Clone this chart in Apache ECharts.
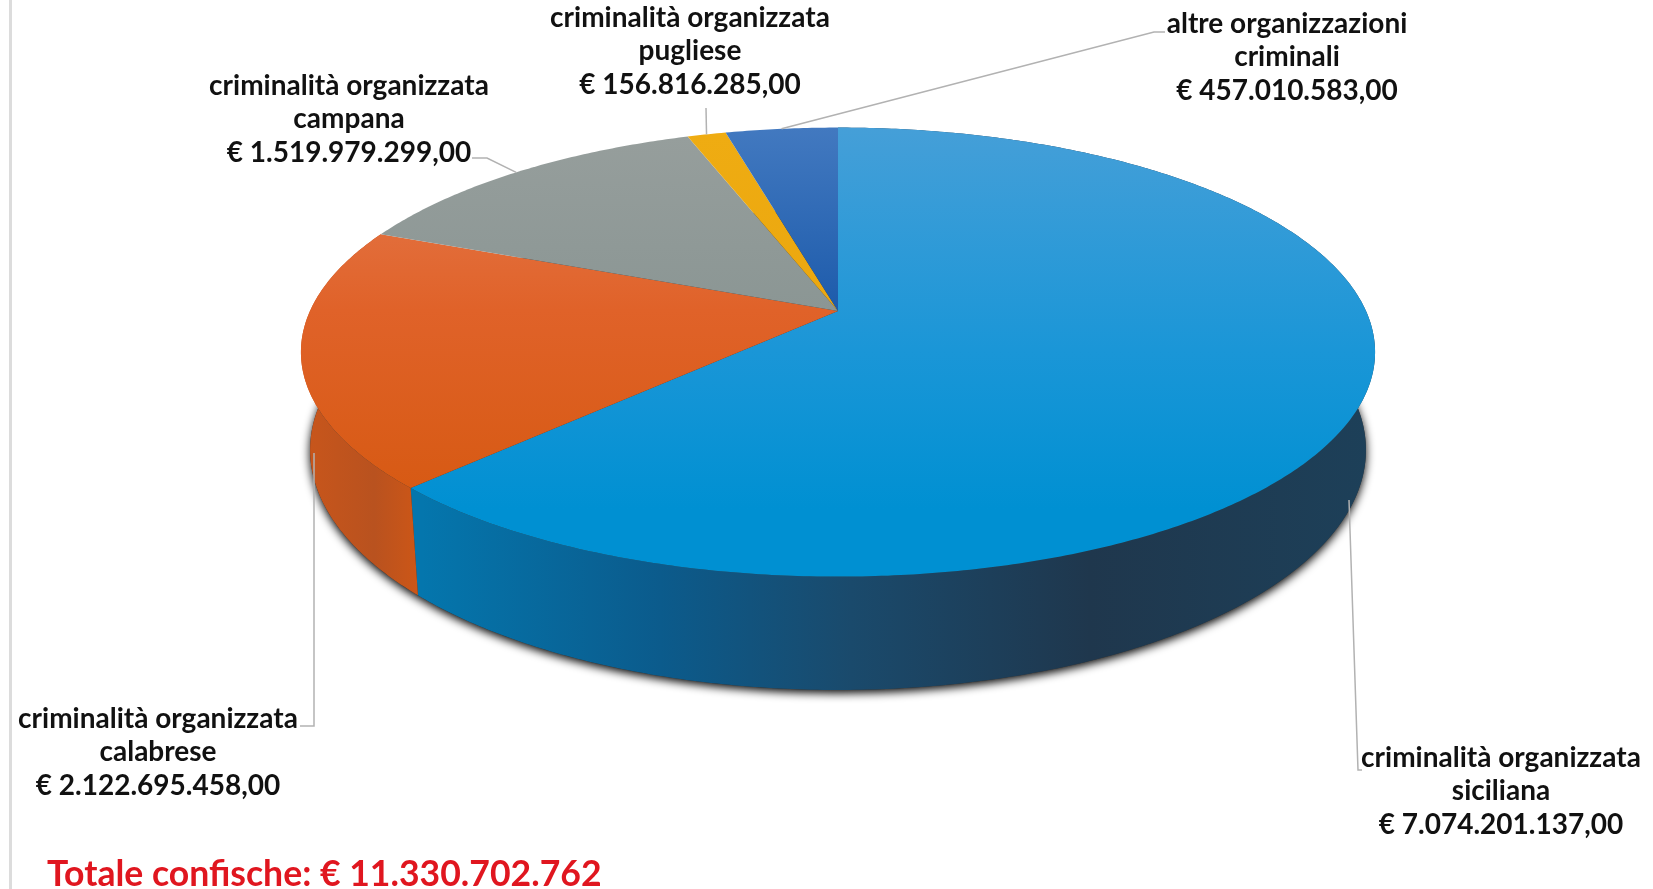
<!DOCTYPE html>
<html>
<head>
<meta charset="utf-8">
<style>
html,body{margin:0;padding:0;background:#fff}
#Charts{width:1653px;height:889px;filter:blur(0.6px)}
</style>
<script src="https://cdn.jsdelivr.net/npm/echarts@6/dist/echarts.min.js"></script>
</head>
<body>
<div id="Charts"></div>
<script>
// confische per organizzazione criminale
var categories = ['siciliana', 'calabrese', 'campana', 'pugliese', 'altre']
var labelNames = ['criminalità organizzata\nsiciliana', 'criminalità organizzata\ncalabrese', 'criminalità organizzata\ncampana', 'criminalità organizzata\npugliese', 'altre organizzazioni\ncriminali']
var values = [7074201137, 2122695458, 1519979299, 156816285, 457010583]
var totalLabel = 'Totale confische: € 11.330.702.762'

// disegno
var FONT = 'Lato'
var topColors = [
	[[0, '#459fd8'], [0.5, '#1a96d7'], [0.85, '#0090d2'], [1, '#0090d2']],
	[[0, '#e26d3a'], [0.3, '#e06229'], [1, '#d75a14']],
	[[0, '#969e9c'], [1, '#8b9694']],
	[[0, '#efac12'], [1, '#eba70f']],
	[[0, '#4279c0'], [1, '#1d5bab']]
]
var wallColors = [
	{x: 422, x2: 1376, stops: [[0, '#0476ad'], [0.25, '#0b5b8c'], [0.45, '#1a4a6c'], [0.7, '#1f374d'], [1, '#1d4059']]},
	{x: 300, x2: 424, stops: [[0, '#c9561b'], [0.6, '#b9521f'], [1, '#cf5716']]}
]
var labelLayout = [
	{x: 1501, y: 791, line: [[1349, 500], [1358, 770], [1362, 770]]},
	{x: 158, y: 752, line: [[314, 453], [314, 726], [300, 726]]},
	{x: 349, y: 119, mid: true, line: [[487, 158], [472, 158]]},
	{x: 690, y: 51, mid: true, line: [[706, 108]]},
	{x: 1287, y: 57, mid: true, line: [[1154, 32], [1165, 32]]}
]

// prospettiva del disco superiore e inferiore
var upper = {cx: 838, cy: 311, a: 528, b: 217, k: -0.183}
var lower = {cx: 838, cy: 406, a: 519, b: 232, k: -0.183}

function project(p, t) {
	var X = Math.sin(t), Y = -Math.cos(t)
	var d = 1 + p.k * Y
	return [p.cx + p.a * X / d, p.cy + p.b * Y / d]
}

function rim(p, t0, t1) {
	var pts = []
	var n = Math.max(2, Math.ceil((t1 - t0) / 0.01))
	for (var i = 0; i <= n; i++) {
		pts.push(project(p, t0 + (t1 - t0) * i / n))
	}
	return pts
}

var total = values.reduce(function (a, b) { return a + b }, 0)
var angles = []
var sum = 0
for (var i = 0; i < values.length; i++) {
	var start = sum / total * Math.PI * 2
	sum += values[i]
	angles.push([start, sum / total * Math.PI * 2])
}

function euro(v) {
	return '€ ' + String(v).replace(/\B(?=(\d{3})+$)/g, '.') + ',00'
}

function stops(list) {
	return list.map(function (s) { return {offset: s[0], color: s[1]} })
}

function renderShadow() {
	return {
		type: 'polygon',
		shape: {points: rim(lower, 0, Math.PI * 2)},
		style: {fill: '#333', shadowColor: 'rgba(0,0,0,1)', shadowBlur: 10, shadowOffsetY: 3, shadowOffsetX: 0}
	}
}

function renderWall(params) {
	var i = params.dataIndex
	var c = wallColors[i]
	if (!c) return null
	var a = angles[i]
	var pts = rim(upper, a[0], a[1]).concat(rim(lower, a[0], a[1]).reverse())
	return {
		type: 'polygon',
		shape: {points: pts},
		style: {fill: {type: 'linear', global: true, x: c.x, y: 0, x2: c.x2, y2: 0, colorStops: stops(c.stops)}}
	}
}

function renderTop(params) {
	var i = params.dataIndex
	var a = angles[i]
	var pts = [[upper.cx, upper.cy]].concat(rim(upper, a[0], a[1]))
	return {
		type: 'polygon',
		shape: {points: pts},
		style: {fill: {type: 'linear', x: 0, y: 0, x2: 0, y2: 1, colorStops: stops(topColors[i])}}
	}
}

function renderLabel(params) {
	var i = params.dataIndex
	var l = labelLayout[i]
	var a = angles[i]
	var pts = l.line.slice()
	if (l.mid) pts.unshift(project(upper, (a[0] + a[1]) / 2))
	return {
		type: 'group',
		children: [{
			type: 'polyline',
			shape: {points: pts},
			style: {fill: null, stroke: '#b2b2b2', lineWidth: 1.5}
		}, {
			type: 'text',
			style: {
				x: l.x, y: l.y,
				text: labelNames[i] + '\n' + euro(values[i]),
				fontFamily: FONT, fontWeight: 'bold', fontSize: 28, lineHeight: 33.5,
				fill: '#111', align: 'center', verticalAlign: 'middle'
			}
		}]
	}
}

var chart = echarts.init(document.getElementById('Charts'))
chart.setOption({
	backgroundColor: '#fff',
	animation: false,
	graphic: [
		{type: 'rect', left: 9, top: 0, shape: {width: 3, height: 889}, style: {fill: '#dcdcdc'}, silent: true},
		{type: 'text', left: 47, top: 857, style: {text: totalLabel, fontFamily: FONT, fontWeight: 'bold', fontSize: 35.6, fill: '#e0161f'}}
	],
	series: [
		{type: 'custom', coordinateSystem: 'none', z: 1, data: [total], renderItem: renderShadow},
		{type: 'custom', coordinateSystem: 'none', z: 2, data: values, renderItem: renderWall},
		{type: 'custom', coordinateSystem: 'none', z: 3, data: values, renderItem: renderTop},
		{type: 'custom', coordinateSystem: 'none', z: 4, data: values, renderItem: renderLabel}
	]
})
</script>
</body>
</html>
